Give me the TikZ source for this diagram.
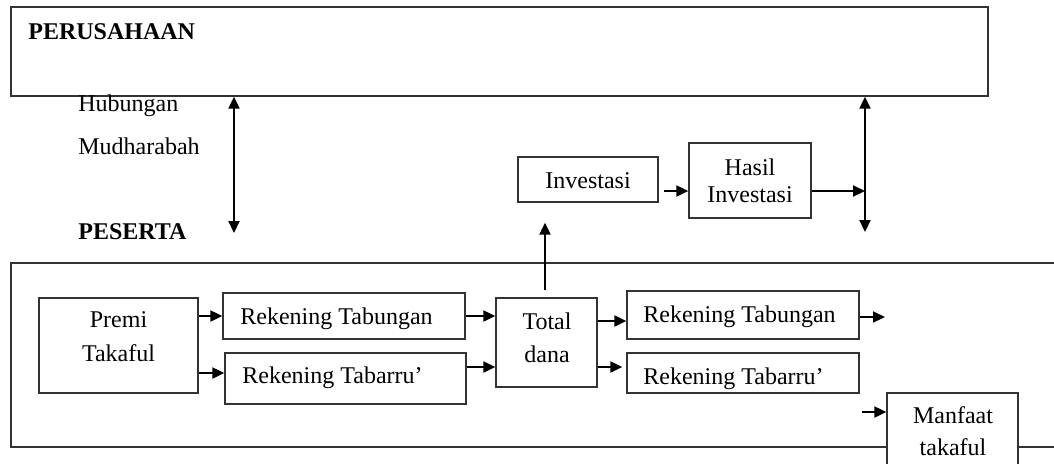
\documentclass[tikz,border=0pt]{standalone}
\usepackage{fontspec}
\setmainfont{Liberation Serif}
\usetikzlibrary{arrows.meta,calc}
\begin{document}
\begin{tikzpicture}[x=0.5pt,y=-0.5pt,
  font=\fontsize{12}{13.8}\selectfont,
  box/.style={draw=black!80, line width=0.65pt, fill=white, inner sep=0pt},
  frame/.style={draw=black!80, line width=0.65pt, inner sep=0pt},
  arr/.style={line width=1pt, -{Triangle[length=6pt,width=5.5pt]}},
  darr/.style={line width=1pt, {Triangle[length=6pt,width=5.5pt]}-{Triangle[length=6pt,width=5.5pt]}},
  lbl/.style={inner sep=0pt, anchor=base west},
  bold/.style={font=\fontsize{12}{13.8}\selectfont\bfseries},
  two/.style={inner sep=0pt, align=center, anchor=center, font=\fontsize{12}{#1}\selectfont}]
\clip (0,0) rectangle (1054,463);
\fill[white] (0,0) rectangle (1054,463);
% frames
\node[frame, minimum width=488.5pt, minimum height=44.5pt] (perus) at (499.5,51.5) {};
\node[frame, minimum width=529.5pt, minimum height=92pt] (peserta) at (540.5,355) {};
% labels
\node[lbl, bold] (perusT) at (28,39) {PERUSAHAAN};
\node[lbl] (hub) at (78,111) {Hubungan};
\node[lbl] (mud) at (78,154) {Mudharabah};
\node[lbl, bold] (pesT) at (78,239) {PESERTA};
% boxes
\node[box, minimum width=79.5pt, minimum height=47.5pt] (premi) at (118.5,345.5) {};
\node[box, minimum width=121pt, minimum height=23pt] (tab1) at (344,316) {};
\node[box, minimum width=120.5pt, minimum height=25.5pt] (tabarru1) at (345.5,378.5) {};
\node[box, minimum width=50.5pt, minimum height=44.5pt] (total) at (546.5,342.5) {};
\node[box, minimum width=116pt, minimum height=24pt] (tab2) at (743,315) {};
\node[box, minimum width=116pt, minimum height=20pt] (tabarru2) at (743,373) {};
\node[box, minimum width=70pt, minimum height=22.5pt] (investasi) at (588,179.5) {};
\node[box, minimum width=61pt, minimum height=37.5pt] (hasil) at (750,180.5) {};
\node[box, minimum width=65.5pt, minimum height=43.5pt] (manfaat) at (952.5,436.5) {};
% box texts
\node[two=17] (premiT) at (118.5,337) {Premi\\Takaful};
\node[lbl] (tab1T) at (240,324) {Rekening Tabungan};
\node[lbl] (tabarru1T) at (242,383) {Rekening Tabarru’};
\node[two=16.5] (totalT) at (547,337.5) {Total\\dana};
\node[lbl] (tab2T) at (643,322) {Rekening Tabungan};
\node[lbl] (tabarru2T) at (643,384) {Rekening Tabarru’};
\node[two=13.8] (investasiT) at (588,180.5) {Investasi};
\node[two=13.5] (hasilT) at (750,180.5) {Hasil\\Investasi};
\node[two=16] (manfaatT) at (953,431) {Manfaat\\takaful};
% connectors
\coordinate (lbot) at (234,233);
\draw[darr] (lbot |- perus.south) -- (lbot);
\coordinate (rbot) at (865,232);
\draw[darr] (rbot |- perus.south) -- (rbot);
\draw[arr] (premi.east |- tab1.west) -- (tab1.west);
\coordinate (p2) at ([yshift=2.75pt]tabarru1.west);
\draw[arr] (p2 -| premi.east) -- (p2);
\draw[arr] (tab1.east) -- (tab1.east -| total.west);
\coordinate (t2) at ([yshift=5.75pt]tabarru1.east);
\draw[arr] (t2) -- (t2 -| total.west);
\coordinate (u1) at ([yshift=-3pt]tab2.west);
\draw[arr] (u1 -| total.east) -- (u1);
\coordinate (u2) at ([shift={(-2pt,3pt)}]tabarru2.west);
\draw[arr] (u2 -| total.east) -- (u2);
\coordinate (tabOut) at (885,317);
\draw[arr] (tabOut -| tab2.east) -- (tabOut);
\coordinate (mIn) at (862,412);
\draw[arr] (mIn) -- (mIn -| manfaat.west);
\coordinate (totUp) at ([shift={(-0.75pt,3.5pt)}]total.north);
\coordinate (invLow) at ([yshift=-10pt]investasi.south);
\draw[arr] (totUp) -- (totUp |- invLow);
\coordinate (iOut) at ([shift={(2.5pt,-5.75pt)}]investasi.east);
\draw[arr] (iOut) -- (iOut -| hasil.west);
\coordinate (hOut) at ([yshift=-5.25pt]hasil.east);
\draw[arr] (hOut) -- (hOut -| rbot);
\end{tikzpicture}
\end{document}
